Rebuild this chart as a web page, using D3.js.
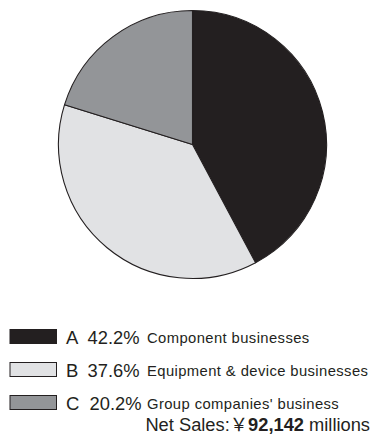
<!DOCTYPE html>
<html>
<head>
<meta charset="utf-8">
<script src="https://cdn.jsdelivr.net/npm/d3@7"></script>
<style>
  html, body { margin: 0; padding: 0; background: #fff; }
  svg { display: block; }
  text { font-family: "Liberation Sans", Arial, Helvetica, sans-serif; fill: #231f20; }
</style>
</head>
<body>
<svg id="chart" width="374" height="434"></svg>
<script>
// Segment data (share of net sales, %)
const letters = ["A", "B", "C"];
const shares = [42.2, 37.6, 20.2];
const segments = ["Component businesses", "Equipment & device businesses", "Group companies' business"];
const fills = ["#231f20", "#e1e2e4", "#939598"];
const netSalesLabel = "Net Sales:";
const yenSign = "\uffe5";
const netSalesValue = "92,142";
const netSalesUnit = " millions";

const svg = d3.select("#chart");
const ink = "#231f20";

// Pie
const cx = 192.5, cy = 144.5, radius = 134;
const pie = d3.pie().sort(null).value(d => d)(shares);
const arc = d3.arc().innerRadius(0).outerRadius(radius);

const pieG = svg.append("g").attr("transform", `translate(${cx},${cy})`);
pieG.selectAll("path")
  .data(pie)
  .join("path")
  .attr("d", arc)
  .attr("fill", (d, i) => fills[i])
  .attr("stroke", ink)
  .attr("stroke-width", 1.1)
  .attr("stroke-linejoin", "round");

// Legend
const rowY = d3.scalePoint().domain(letters).range([343.5, 409.5]);
const legend = svg.append("g");
const rows = legend.selectAll("g")
  .data(letters)
  .join("g")
  .attr("transform", d => `translate(0,${rowY(d)})`);

rows.append("rect")
  .attr("x", 10)
  .attr("y", -14)
  .attr("width", 46.5)
  .attr("height", 14)
  .attr("fill", (d, i) => fills[i])
  .attr("stroke", ink)
  .attr("stroke-width", 1);

rows.append("text")
  .attr("x", 66)
  .attr("y", 0)
  .attr("font-size", 18.5)
  .text(d => d);

rows.append("text")
  .attr("x", (d, i) => i === 2 ? 89.5 : 87.5)
  .attr("y", 0)
  .attr("font-size", 18)
  .attr("textLength", 52)
  .attr("lengthAdjust", "spacingAndGlyphs")
  .text((d, i) => shares[i].toFixed(1) + "%");

rows.append("text")
  .attr("x", 147)
  .attr("y", -1)
  .attr("font-size", 14.8)
  .attr("letter-spacing", 0.4)
  .text((d, i) => segments[i]);

// Net sales total
const total = svg.append("text")
  .attr("x", 370)
  .attr("y", 430.5)
  .attr("text-anchor", "end")
  .attr("font-size", 18.3);
total.append("tspan").text(netSalesLabel);
total.append("tspan")
  .attr("font-family", "'Noto Sans CJK JP', 'Liberation Sans', sans-serif")
  .text(yenSign);
total.append("tspan").attr("font-weight", "bold").text(netSalesValue);
total.append("tspan").text(netSalesUnit);
</script>
</body>
</html>
